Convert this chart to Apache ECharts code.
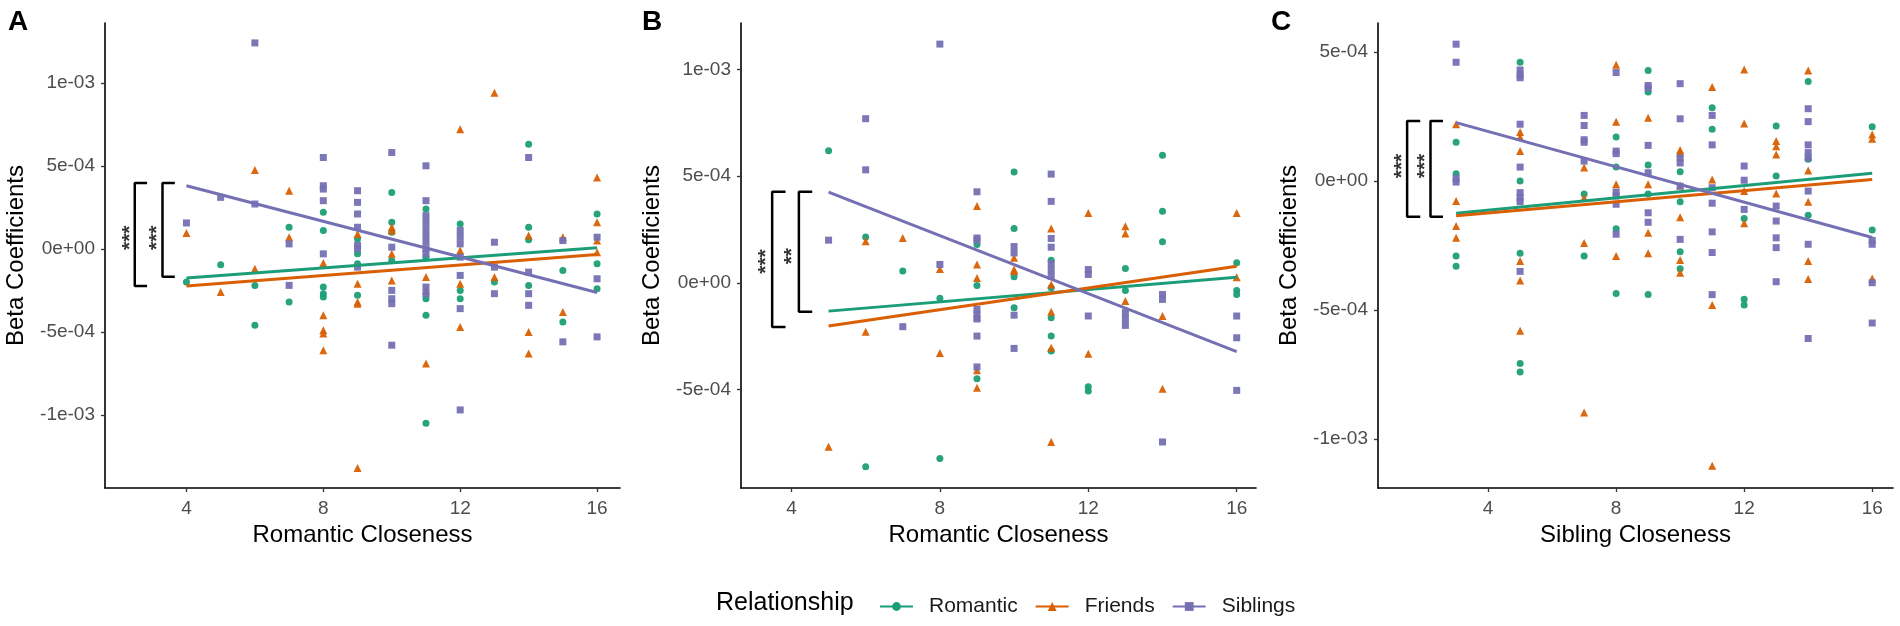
<!DOCTYPE html>
<html lang="en">
<head>
<meta charset="UTF-8">
<title>Beta Coefficients by Closeness</title>
<style>
  html, body { margin: 0; padding: 0; background: #fff; }
  #chart { width: 1900px; height: 626px; }
</style>
</head>
<body>
<div id="chart"></div>
<script src="https://cdn.jsdelivr.net/npm/echarts@6/dist/echarts.min.js"></script>
<script>
// all y values are in units of 1e-4
var groups = ['Romantic', 'Friends', 'Siblings'];
var groupColors = ['#1B9E77', '#D95F02', '#7570B3'];
var groupSymbols = ['circle', 'triangle', 'rect'];
var groupSizes = [7, 8, 7];

var panelLetters = ['A', 'B', 'C'];
var panelXNames = ['Romantic Closeness', 'Romantic Closeness', 'Sibling Closeness'];
var xTicks = [4, 8, 12, 16];
var xRanges = [[1.62, 16.67], [2.64, 16.52], [0.56, 16.65]];
var yRanges = [[-14.4, 13.6], [-9.63, 12.19], [-11.89, 6.12]];
var yTicks = [[-10, -5, 0, 5, 10], [-5, 0, 5, 10], [-10, -5, 0, 5]];
var yTickLabels = { '-10': '-1e-03', '-5': '-5e-04', '0': '0e+00', '5': '5e-04', '10': '1e-03' };

// Panel A
var romanticA = [[4,-2.0],[5,-0.95],[6,-2.2],[6,-4.6],[7,1.3],[7,-3.2],[8,2.2],[8,1.1],[8,-2.3],[8,-2.7],[8,-2.9],
  [9,0.6],[9,-0.3],[9,-0.9],[9,-2.8],[10,3.4],[10,1.6],[10,1.0],[10,-0.7],[11,2.4],[11,-0.5],[11,-3.0],[11,-4.0],
  [11,-10.5],[12,1.5],[12,-2.5],[12,-3.0],[13,-2.0],[14,6.3],[14,1.3],[14,0.55],[14,-2.2],[15,-1.3],[15,-4.4],
  [16,2.1],[16,-0.9],[16,-2.4]];
var friendsA = [[4,0.95],[5,-2.6],[6,4.75],[6,-1.2],[7,3.5],[7,0.7],[8,-0.85],[8,-4.0],[8,-4.9],[8,-5.1],[8,-6.1],
  [9,0.9],[9,-2.1],[9,-3.2],[9,-3.3],[9,-13.2],[10,1.3],[10,1.1],[10,-0.3],[10,-1.9],[11,-1.7],[11,-2.5],[11,-6.9],
  [12,7.2],[12,-0.1],[12,-2.1],[12,-4.7],[13,9.4],[13,-1.7],[14,0.8],[14,-5.0],[14,-6.3],[15,0.7],[15,-3.8],
  [16,4.3],[16,1.6],[16,0.5],[16,-0.2]];
var siblingsA = [[4,1.56],[5,3.1],[6,12.4],[6,2.7],[7,0.3],[7,-2.2],[8,5.5],[8,3.8],[8,3.6],[8,2.9],[8,-0.3],
  [9,3.5],[9,2.8],[9,2.1],[9,1.3],[9,0.2],[9,0.0],[9,-1.1],[10,5.8],[10,0.1],[10,-2.5],[10,-3.0],[10,-3.3],[10,-5.8],
  [11,5.0],[11,2.9],[11,2.0],[11,1.6],[11,1.2],[11,0.8],[11,0.4],[11,0.0],[11,-0.3],[11,-2.3],[11,-2.7],
  [12,1.1],[12,0.7],[12,0.3],[12,-0.5],[12,-1.6],[12,-3.6],[12,-9.7],[13,0.4],[13,-1.1],[13,-2.7],
  [14,5.5],[14,-1.4],[14,-2.7],[14,-3.4],[15,0.5],[15,-5.6],[16,0.7],[16,-1.8],[16,-5.3]];
var fitsA = [[[4,-1.75],[16,0.06]], [[4,-2.23],[16,-0.34]], [[4,3.8],[16,-2.63]]];
var bracketsA = [[2.49, 2.85, 3.97, -2.23], [3.30, 3.66, 3.97, -1.68]];
var starsA = [[2.36, 0.67, '***'], [3.16, 0.67, '***']];

// Panel B
var romanticB = [[5,6.2],[6,2.15],[6,-8.63],[7,0.55],[8,-0.73],[8,-8.24],[9,1.8],[9,-0.13],[9,-4.5],
  [10,5.2],[10,2.55],[10,0.28],[10,-1.17],[11,1.06],[11,-0.23],[11,-1.64],[11,-2.5],[11,-3.2],[12,-4.88],[12,-5.08],
  [13,0.67],[13,-0.36],[14,5.98],[14,3.36],[14,1.92],[16,0.94],[16,-0.36],[16,-0.55]];
var friendsB = [[5,-7.7],[6,1.95],[6,-2.3],[7,2.1],[8,0.65],[8,-3.3],[9,3.6],[9,0.86],[9,0.23],[9,-1.6],[9,-4.1],
  [9,-4.92],[10,1.17],[10,0.62],[10,0.55],[11,2.55],[11,-0.08],[11,-1.36],[11,-3.05],[11,-7.47],[12,3.28],[12,-3.33],
  [13,2.65],[13,2.31],[13,-0.86],[14,-1.56],[14,-4.97],[16,3.28],[16,0.26]];
var siblingsB = [[5,2.0],[6,7.7],[6,5.3],[7,-2.06],[8,11.2],[8,0.86],[9,4.27],[9,2.1],[9,2.0],[9,-1.25],[9,-1.5],
  [9,-1.7],[9,-2.5],[9,-3.95],[10,1.7],[10,1.4],[10,-1.52],[10,-3.08],[11,5.1],[11,3.82],[11,2.08],[11,1.67],
  [11,0.9],[11,0.6],[11,0.3],[12,0.62],[12,0.39],[12,-1.56],[13,-1.4],[13,-1.7],[13,-2.0],[14,-0.55],[14,-0.78],
  [14,-7.47],[16,-1.56],[16,-2.58],[16,-5.05]];
var fitsB = [[[5,-1.33],[16,0.26]], [[5,-2.03],[16,0.78]], [[5,4.25],[16,-3.23]]];
var bracketsB = [[3.48, 3.84, 4.27, -2.08], [4.20, 4.56, 4.27, -1.36]];
var starsB = [[3.31, 1.0, '***'], [4.03, 1.25, '**']];

// Panel C
var romanticC = [[3,1.5],[3,0.28],[3,-2.9],[3,-3.3],[5,4.6],[5,0],[5,-2.8],[5,-7.07],[5,-7.4],[7,-0.5],[7,-2.9],
  [8,1.7],[8,0.54],[8,-1.85],[8,-4.36],[9,4.28],[9,3.45],[9,0.62],[9,-0.5],[9,-4.4],[10,0.36],[10,-0.8],[10,-2.74],
  [10,-3.4],[11,2.84],[11,2.0],[12,-1.45],[12,-4.58],[12,-4.8],[13,2.13],[13,0.19],[14,3.85],[14,0.84],[14,-1.33],
  [16,2.1],[16,-1.9]];
var friendsC = [[3,2.2],[3,-0.77],[3,-1.74],[3,-2.2],[5,1.9],[5,1.7],[5,1.16],[5,-3.1],[5,-3.85],[5,-5.8],
  [7,0.52],[7,-0.65],[7,-2.4],[7,-8.97],[8,4.5],[8,2.3],[8,-0.13],[8,-2.9],[9,2.45],[9,-0.13],[9,-2.0],[9,-2.8],
  [10,1.2],[10,1.1],[10,-0.17],[10,-1.4],[10,-3.06],[10,-3.55],[11,3.64],[11,0.06],[11,-4.8],[11,-11.03],
  [12,4.32],[12,2.23],[12,-0.39],[12,-1.64],[13,1.55],[13,1.35],[13,1.03],[13,-0.48],[14,4.28],[14,0.41],[14,-0.8],
  [14,-3.1],[14,-3.8],[16,1.8],[16,1.64],[16,-3.78]];
var siblingsC = [[3,5.3],[3,4.6],[3,0.1],[3,-0.04],[5,4.3],[5,4.1],[5,4.0],[5,2.2],[5,0.54],[5,-0.45],[5,-0.65],
  [5,-0.8],[5,-3.5],[7,2.54],[7,2.15],[7,1.6],[7,1.5],[7,0.77],[8,4.2],[8,1.16],[8,1.06],[8,-0.43],[8,-0.58],[8,-0.9],
  [8,-2.06],[9,3.7],[9,3.6],[9,1.38],[9,0.32],[9,-1.23],[9,-1.6],[10,3.77],[10,2.41],[10,0.9],[10,0.7],[10,-0.2],
  [10,-2.26],[11,2.54],[11,1.4],[11,-0.26],[11,-0.86],[11,-1.97],[11,-2.77],[11,-4.4],[12,0.58],[12,0.03],[12,-1.1],
  [13,-0.97],[13,-1.55],[13,-2.2],[13,-2.58],[13,-3.9],[14,2.8],[14,2.3],[14,1.4],[14,1.1],[14,0.9],[14,-0.39],
  [14,-2.45],[14,-6.1],[16,-2.3],[16,-2.45],[16,-3.94],[16,-5.5]];
var fitsC = [[[3,-1.25],[16,0.3]], [[3,-1.35],[16,0.06]], [[3,2.26],[16,-2.19]]];
var bracketsC = [[1.47, 1.88, 2.32, -1.38], [2.20, 2.59, 2.32, -1.38]];
var starsC = [[1.33, 0.58, '***'], [2.05, 0.58, '***']];

var points = [[romanticA, friendsA, siblingsA], [romanticB, friendsB, siblingsB], [romanticC, friendsC, siblingsC]];
var fits = [fitsA, fitsB, fitsC];
var brackets = [bracketsA, bracketsB, bracketsC];
var stars = [starsA, starsB, starsC];

var gridLefts = [105, 741, 1378];
var font = 'Liberation Sans, Arial, sans-serif';

function setup() {
    var chart = echarts.init(document.getElementById('chart'), null, { renderer: 'canvas' });
    var grids = [], xAxes = [], yAxes = [], series = [], titles = [];

    for (var p = 0; p < 3; p++) {
        grids.push({ left: gridLefts[p], top: 23, width: 515, height: 465, containLabel: false });
        xAxes.push({
            type: 'value', gridIndex: p, min: xRanges[p][0], max: xRanges[p][1],
            name: panelXNames[p], nameLocation: 'middle', nameGap: 34,
            nameTextStyle: { fontSize: 24, color: '#000', fontFamily: font },
            splitLine: { show: false },
            axisLine: { onZero: false, lineStyle: { color: '#000', width: 1.6 } },
            axisTick: { customValues: xTicks, length: 4, lineStyle: { color: '#333', width: 1.3 } },
            axisLabel: { customValues: xTicks, margin: 11, fontSize: 19, color: '#4D4D4D', fontFamily: font }
        });
        yAxes.push({
            type: 'value', gridIndex: p, min: yRanges[p][0], max: yRanges[p][1],
            name: 'Beta Coefficients', nameLocation: 'middle', nameGap: 77,
            nameTextStyle: { fontSize: 24, color: '#000', fontFamily: font },
            splitLine: { show: false },
            axisLine: { show: true, onZero: false, lineStyle: { color: '#000', width: 1.6 } },
            axisTick: { show: true, customValues: yTicks[p], length: 4, lineStyle: { color: '#333', width: 1.3 } },
            axisLabel: {
                customValues: yTicks[p], margin: 10, fontSize: 19, color: '#4D4D4D', fontFamily: font,
                formatter: function (v) { return yTickLabels[String(Math.round(v))]; }
            }
        });
        titles.push({ text: panelLetters[p], left: [3, 637, 1266][p], top: 3,
            textStyle: { fontSize: 28, fontWeight: 'bold', color: '#000', fontFamily: font } });
    }

    // regression lines first so the legend takes its icons from them
    for (var p = 0; p < 3; p++) {
        for (var g = 0; g < 3; g++) {
            series.push({
                name: groups[g], type: 'line', xAxisIndex: p, yAxisIndex: p,
                data: fits[p][g], symbol: groupSymbols[g], symbolSize: 7, showSymbol: false,
                lineStyle: { color: groupColors[g], width: 3 }, itemStyle: { color: groupColors[g] },
                z: 4, silent: true
            });
        }
    }
    for (var p = 0; p < 3; p++) {
        for (var g = 0; g < 3; g++) {
            series.push({
                name: groups[g], type: 'scatter', xAxisIndex: p, yAxisIndex: p,
                data: points[p][g], symbol: groupSymbols[g], symbolSize: groupSizes[g],
                itemStyle: { color: groupColors[g], opacity: 0.95 }, z: 2, silent: true
            });
        }
        brackets[p].forEach(function (b) {
            series.push({
                name: 'bracket', type: 'line', xAxisIndex: p, yAxisIndex: p,
                data: [[b[1], b[2]], [b[0], b[2]], [b[0], b[3]], [b[1], b[3]]],
                symbol: 'none', lineStyle: { color: '#000', width: 2.5 }, z: 3, silent: true
            });
        });
        series.push({
            name: 'stars', type: 'scatter', xAxisIndex: p, yAxisIndex: p,
            data: stars[p], symbol: 'circle', symbolSize: 1,
            itemStyle: { color: 'rgba(0,0,0,0)' }, silent: true, z: 5,
            label: {
                show: true, position: 'inside', rotate: 90, fontSize: 21, fontWeight: 'bold',
                color: '#000', fontFamily: font,
                formatter: function (d) { return d.value[2]; }
            }
        });
    }

    titles.push({ text: 'Relationship', left: 711, top: 586,
        textStyle: { fontSize: 25, fontWeight: 'normal', color: '#000', fontFamily: font } });

    chart.setOption({
        animation: false,
        backgroundColor: '#fff',
        title: titles,
        legend: {
            data: groups, left: 874, top: 591, itemWidth: 33, itemHeight: 11, itemGap: 17,
            textStyle: { fontSize: 21, color: '#1a1a1a', fontFamily: font, padding: [0, 0, 0, 11] }
        },
        grid: grids,
        xAxis: xAxes,
        yAxis: yAxes,
        series: series
    });
}
setup();
</script>
</body>
</html>
